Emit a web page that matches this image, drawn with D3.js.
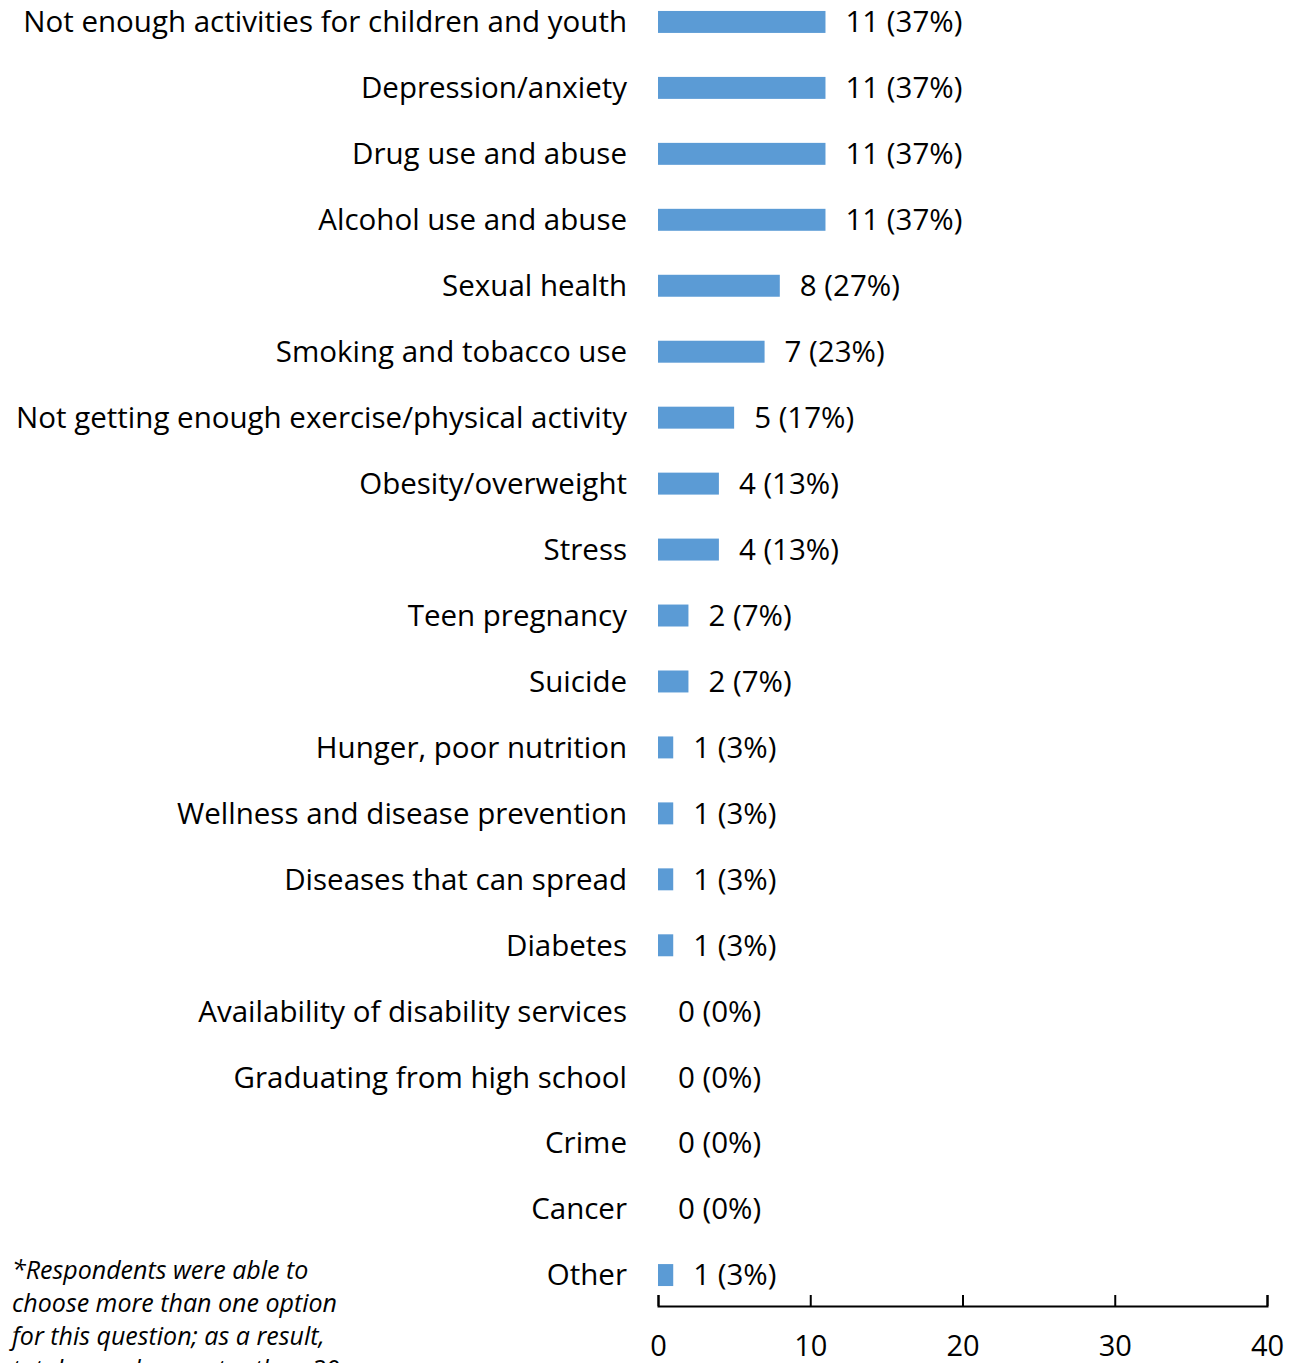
<!DOCTYPE html>
<html>
<head>
<meta charset="utf-8">
<script src="https://d3js.org/d3.v7.min.js"></script>
<style>
  body { margin: 0; background: #fff; }
  text { font-family: "Open Sans", Lato, sans-serif; fill: #000; }
</style>
</head>
<body>
<script>
const width = 1294;
const height = 1363;

const categories = [
    "Not enough activities for children and youth",
    "Depression/anxiety",
    "Drug use and abuse",
    "Alcohol use and abuse",
    "Sexual health",
    "Smoking and tobacco use",
    "Not getting enough exercise/physical activity",
    "Obesity/overweight",
    "Stress",
    "Teen pregnancy",
    "Suicide",
    "Hunger, poor nutrition",
    "Wellness and disease prevention",
    "Diseases that can spread",
    "Diabetes",
    "Availability of disability services",
    "Graduating from high school",
    "Crime",
    "Cancer",
    "Other"
];
const counts = [11, 11, 11, 11, 8, 7, 5, 4, 4, 2, 2, 1, 1, 1, 1, 0, 0, 0, 0, 1];
const percents = [37, 37, 37, 37, 27, 23, 17, 13, 13, 7, 7, 3, 3, 3, 3, 0, 0, 0, 0, 3];
const xTicks = [0, 10, 20, 30, 40];
const footnote = [
    "*Respondents were able to",
    "choose more than one option",
    "for this question; as a result,",
    "totals may be greater than 30."
];

const rows = categories.map((c, i) => ({ cat: c, n: counts[i], pct: percents[i] }));

const svg = d3.select("body")
    .append("svg")
    .attr("width", width)
    .attr("height", height);

const x = d3.scaleLinear()
    .domain([0, 40])
    .range([658, 1267]);

const y = d3.scaleBand()
    .domain(categories)
    .range([-11, 1308])
    .paddingInner(0.667)
    .paddingOuter(0.333);

// bars
svg.selectAll("rect.bar")
    .data(rows)
    .enter()
    .append("rect")
    .attr("class", "bar")
    .attr("x", x(0))
    .attr("y", d => y(d.cat))
    .attr("width", d => x(d.n) - x(0))
    .attr("height", y.bandwidth())
    .attr("fill", "#5b9bd5");

// category labels
svg.selectAll("text.cat")
    .data(rows)
    .enter()
    .append("text")
    .attr("class", "cat")
    .attr("x", 627)
    .attr("y", d => y(d.cat) + y.bandwidth() / 2)
    .attr("dy", "0.35em")
    .attr("text-anchor", "end")
    .style("font-size", "29.5px")
    .text(d => d.cat);

// value labels
svg.selectAll("text.val")
    .data(rows)
    .enter()
    .append("text")
    .attr("class", "val")
    .attr("x", d => x(d.n) + 20)
    .attr("y", d => y(d.cat) + y.bandwidth() / 2)
    .attr("dy", "0.35em")
    .style("font-size", "29.5px")
    .text(d => `${d.n} (${d.pct}%)`);

// x axis, ticks pointing up
const axis = svg.append("g")
    .attr("transform", "translate(0,1306)")
    .call(d3.axisBottom(x)
        .tickValues(xTicks)
        .tickSizeInner(-11)
        .tickSizeOuter(-11)
        .tickPadding(29));

axis.select(".domain").attr("stroke", "#000").attr("stroke-width", 2);
axis.selectAll(".tick line").attr("stroke", "#000").attr("stroke-width", 2);
axis.selectAll(".tick text")
    .style("font-family", "'Open Sans', Lato, sans-serif")
    .style("font-size", "29px")
    .attr("fill", "#000");

// footnote
svg.append("text")
    .attr("x", 12)
    .attr("y", 1279)
    .style("font-size", "25px")
    .style("font-style", "italic")
    .selectAll("tspan")
    .data(footnote)
    .enter()
    .append("tspan")
    .attr("x", 12)
    .attr("dy", (d, i) => i === 0 ? 0 : 33)
    .text(d => d);
</script>
</body>
</html>
